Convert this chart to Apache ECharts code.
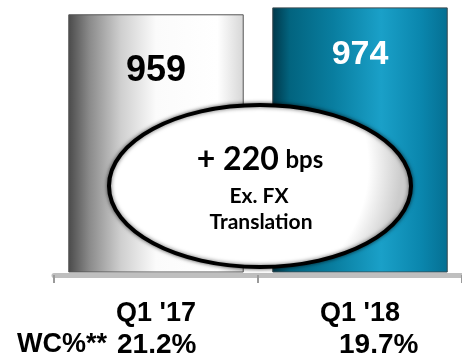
<!DOCTYPE html>
<html><head><meta charset="utf-8">
<script src="https://cdn.jsdelivr.net/npm/echarts@6/dist/echarts.min.js"></script>
<style>html,body{margin:0;padding:0;background:#fff}#c{width:462px;height:361px}</style>
</head><body><div id="c"></div>
<script>
const categories = ["Q1 '17", "Q1 '18"];
const values = [959, 974];
const wcLabel = "WC%**";
const wcValues = ["21.2%", "19.7%"];
const bubbleMain = "+ 220";
const bubbleUnit = "bps";
const bubbleSub1 = "Ex. FX";
const bubbleSub2 = "Translation";

const greyGrad = new echarts.graphic.LinearGradient(0, 0, 1, 0, [
  {offset: 0, color: '#4a4a4a'},
  {offset: 0.12, color: '#8a8a8a'},
  {offset: 0.3, color: '#cfcfcf'},
  {offset: 0.5, color: '#fbfbfb'},
  {offset: 0.85, color: '#ffffff'},
  {offset: 1, color: '#d6d6d6'}
]);
const tealGrad = new echarts.graphic.LinearGradient(0, 0, 1, 0, [
  {offset: 0, color: '#00384a'},
  {offset: 0.1, color: '#02647f'},
  {offset: 0.35, color: '#097ea0'},
  {offset: 0.62, color: '#1aa0c8'},
  {offset: 0.85, color: '#0a86ad'},
  {offset: 1, color: '#056f92'}
]);

const bottomFont = 'bold 28px "Liberation Sans", Arial';
function txt(text, x, y, font, align) {
  return {type: 'text', z: 101, x: x, y: y,
    style: {text: text, font: font, fill: '#000', align: align, verticalAlign: 'middle', textAlign: align, textVerticalAlign: 'middle'}};
}

const chart = echarts.init(document.getElementById('c'), null, {renderer: 'canvas'});
chart.setOption({
  animation: false,
  backgroundColor: '#ffffff',
  grid: {left: 54, right: -6, top: 0, bottom: 89, containLabel: false},
  xAxis: {
    type: 'category',
    data: categories,
    offset: 3,
    axisLine: {lineStyle: {color: '#bfbfbf', width: 5}},
    axisTick: {show: true, length: 8, lineStyle: {color: '#9a9a9a', width: 2}},
    axisLabel: {color: '#000', fontFamily: 'Liberation Sans, Arial', fontWeight: 'bold', fontSize: 27, margin: 25}
  },
  yAxis: {type: 'value', min: 400, max: 990, show: false, splitLine: {show: false}},
  series: [{
    type: 'bar',
    barWidth: '86%',
    data: [
      {value: values[0], itemStyle: {color: greyGrad, borderColor: '#555', borderWidth: 1},
       label: {show: true, position: 'insideTop', distance: 39, color: '#000', fontSize: 36, fontWeight: 'bold', fontFamily: 'Liberation Sans, Arial'}},
      {value: values[1], itemStyle: {color: tealGrad, borderColor: '#3a4a50', borderWidth: 1},
       label: {show: true, position: 'insideTop', distance: 30, color: '#fff', fontSize: 34, fontWeight: 'bold', fontFamily: 'Liberation Sans, Arial'}}
    ]
  }],
  graphic: [
    {type: 'ellipse', z: 100, shape: {cx: 260, cy: 186, rx: 151, ry: 81},
     style: {
       fill: new echarts.graphic.RadialGradient(0.42, 0.38, 1.0, [
         {offset: 0, color: '#ffffff'}, {offset: 0.8, color: '#ffffff'}, {offset: 1, color: '#cccccc'}
       ]),
       stroke: '#000', lineWidth: 4, shadowBlur: 4, shadowColor: 'rgba(0,0,0,0.6)'
     }},
    {type: 'text', z: 101, x: 260, y: 160,
     style: {text: '{a|' + bubbleMain + '}  {b|' + bubbleUnit + '}', align: 'center', verticalAlign: 'middle', textAlign: 'center', textVerticalAlign: 'middle',
       rich: {a: {font: 'bold 32px Lato', fill: '#000', color: '#000'}, b: {font: 'bold 24px Lato', fill: '#000', color: '#000'}}}},
    txt(bubbleSub1, 259, 196, 'bold 21px Lato', 'center'),
    txt(bubbleSub2, 261, 222, 'bold 21px Lato', 'center'),
    txt(wcLabel, 17, 345, 'bold 27px "Liberation Sans", Arial', 'left'),
    txt(wcValues[0], 117, 345, bottomFont, 'left'),
    txt(wcValues[1], 339, 345, bottomFont, 'left')
  ]
});
</script></body></html>
